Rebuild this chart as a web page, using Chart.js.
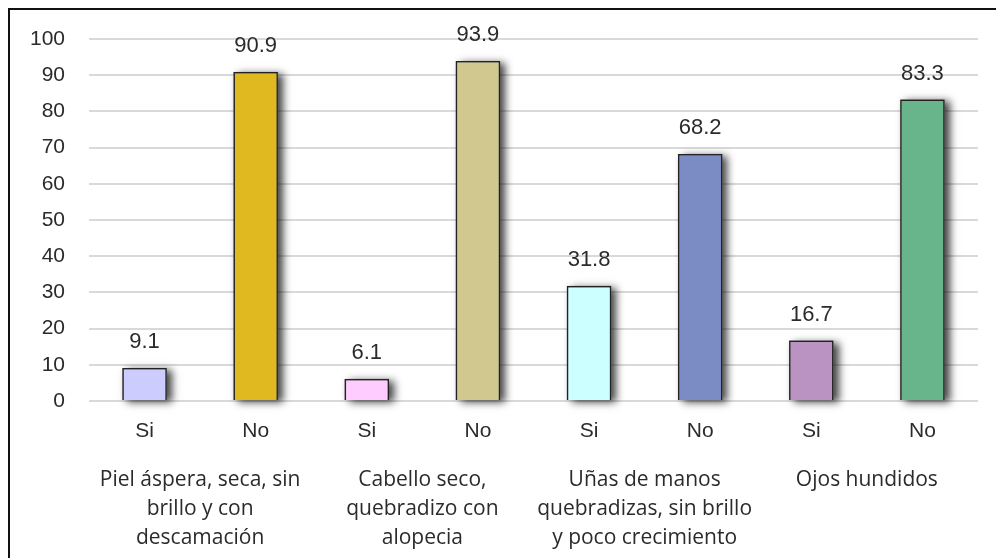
<!DOCTYPE html>
<html>
<head>
<meta charset="utf-8">
<script src="https://cdn.jsdelivr.net/npm/chart.js@4"></script>
<style>
    html, body { margin: 0; padding: 0; background: #fff; overflow: hidden; }
    #wrap { position: relative; width: 996px; height: 558px; }
    #frame { position: absolute; left: 8px; top: 8px; width: 1000px; height: 600px; border: 2px solid #111; box-sizing: border-box; pointer-events: none; }
    canvas { position: absolute; left: 0; top: 0; }
</style>
</head>
<body>
<div id="wrap">
    <canvas id="chart" width="996" height="558"></canvas>
    <div id="frame"></div>
</div>
<script>
// ---- Data ----

const answers = ['Si', 'No', 'Si', 'No', 'Si', 'No', 'Si', 'No'];
const groups = [
    ['Piel áspera, seca, sin', 'brillo y con', 'descamación'],
    ['Cabello seco,', 'quebradizo con', 'alopecia'],
    ['Uñas de manos', 'quebradizas, sin brillo', 'y poco crecimiento'],
    ['Ojos hundidos']
];
const percentages = [9.1, 90.9, 6.1, 93.9, 31.8, 68.2, 16.7, 83.3];
const barColors = ['#ccccff', '#e0b920', '#ffccff', '#d0c88e', '#ccffff', '#7b8cc5', '#bb93c3', '#68b48b'];
const yTicks = [0, 10, 20, 30, 40, 50, 60, 70, 80, 90, 100];

const SANS = '"Liberation Sans", Arial, sans-serif';

// ---- Plugins ----

// soft drop shadow behind each bar, painted before the bars themselves
const barShadow = {
    id: 'barShadow',
    beforeDatasetsDraw(chart) {
        const ctx = chart.ctx;
        const meta = chart.getDatasetMeta(0);
        ctx.save();
        ctx.shadowColor = 'rgba(0,0,0,0.75)';
        ctx.shadowBlur = 8;
        ctx.shadowOffsetX = 5;
        ctx.shadowOffsetY = 2;
        ctx.fillStyle = '#777';
        meta.data.forEach(bar => {
            const { x, y, base, width } = bar.getProps(['x', 'y', 'base', 'width'], true);
            ctx.fillRect(x - width / 2, y, width, base - y);
        });
        ctx.restore();
    }
};

// value printed above each bar
const valueLabels = {
    id: 'valueLabels',
    afterDatasetsDraw(chart) {
        const ctx = chart.ctx;
        const meta = chart.getDatasetMeta(0);
        ctx.save();
        ctx.font = '22px ' + SANS;
        ctx.fillStyle = '#2b2b2b';
        ctx.textAlign = 'center';
        ctx.textBaseline = 'middle';
        meta.data.forEach((bar, i) => {
            ctx.fillText(percentages[i].toFixed(1), bar.x, bar.y - 26);
        });
        ctx.restore();
    }
};

// ---- Chart ----

new Chart(document.getElementById('chart'), {
    type: 'bar',
    data: {
        labels: answers,
        datasets: [{
            data: percentages,
            backgroundColor: barColors,
            borderColor: '#222',
            borderWidth: 1.5,
            categoryPercentage: 1,
            barPercentage: 0.4
        }]
    },
    options: {
        responsive: false,
        animation: false,
        events: [],
        layout: { padding: { top: 39, right: 18, bottom: 0, left: 0 } },
        plugins: { legend: { display: false }, tooltip: { enabled: false } },
        scales: {
            y: {
                min: 0,
                max: 100,
                afterFit: s => { s.width = 89; },
                afterBuildTicks: s => { s.ticks = yTicks.map(v => ({ value: v })); },
                grid: { color: '#d9d9d9', lineWidth: 2, drawTicks: false },
                border: { display: false },
                ticks: {
                    padding: 24,
                    color: '#2b2b2b',
                    font: { family: SANS, size: 21 }
                }
            },
            x: {
                afterFit: s => { s.height = 47; },
                grid: { display: false, drawTicks: false },
                border: { display: false },
                ticks: {
                    padding: 18,
                    color: '#2b2b2b',
                    font: { family: SANS, size: 21 }
                }
            },
            groups: {
                type: 'category',
                position: 'bottom',
                labels: groups,
                afterFit: s => { s.height = 110; },
                grid: { display: false, drawTicks: false },
                border: { display: false },
                ticks: {
                    padding: 18,
                    maxRotation: 0,
                    autoSkip: false,
                    color: '#2b2b2b',
                    font: { family: '"Open Sans", sans-serif', size: 21, lineHeight: '29px' }
                }
            }
        }
    },
    plugins: [barShadow, valueLabels]
});
</script>
</body>
</html>
